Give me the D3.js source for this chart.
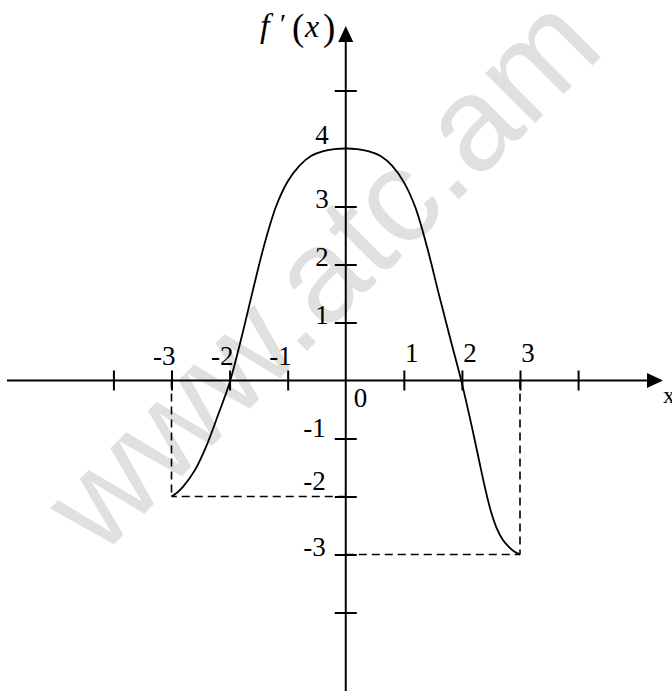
<!DOCTYPE html>
<html>
<head>
<meta charset="utf-8">
<script src="https://cdn.jsdelivr.net/npm/d3@7"></script>
<style>
  html, body { margin: 0; padding: 0; background: #fff; }
  svg { display: block; }
</style>
</head>
<body>
<svg id="chart" width="672" height="691"></svg>
<script>
// ---- data ----
const curveX = [-3, -2.9, -2.8, -2.6, -2.4, -2.2, -2.0, -1.8, -1.6, -1.4, -1.2, -1.0, -0.8, -0.6, -0.4, -0.2, 0,
                0.2, 0.4, 0.6, 0.8, 1.0, 1.2, 1.4, 1.6, 1.8, 2.0, 2.2, 2.3, 2.4, 2.5, 2.6, 2.7, 2.8, 2.9, 3];
const curveY = [-2, -1.93, -1.83, -1.55, -1.13, -0.6, -0.04, 0.72, 1.55, 2.35, 3.0, 3.43, 3.7, 3.87, 3.95, 3.99, 4,
                3.99, 3.95, 3.87, 3.7, 3.42, 2.98, 2.3, 1.5, 0.72, -0.05, -0.93, -1.4, -1.86, -2.26, -2.55, -2.74, -2.86, -2.95, -3];
const xTicks = [-4, -3, -2, -1, 1, 2, 3, 4];
const xTickLabels = [-3, -2, -1, 1, 2, 3];
const yTicks = [5, 3, 2, 1, -1, -2, -3, -4];
const yTickLabels = [4, 3, 2, 1, -1, -2, -3];
const endpoints = [[-3, -2], [3, -3]];
const watermark = "www.atc.am";

// ---- scales ----
const W = 672, H = 691;
const x = d3.scaleLinear().domain([-3, 3]).range([171.5, 520]);
const y = d3.scaleLinear().domain([-3, 4]).range([554.5, 148.5]);
const x0 = x(0), y0 = y(0);

const svg = d3.select("#chart");

// watermark (behind everything)
svg.append("text")
  .attr("transform", "translate(100,558) rotate(-45)")
  .attr("font-family", "Liberation Sans, Arial, sans-serif")
  .attr("font-size", 133)
  .attr("fill", "#e0e0e0")
  .text(watermark);

// dashed guide lines
const dash = svg.append("g")
  .attr("stroke", "#000").attr("stroke-width", 1.6)
  .attr("stroke-dasharray", "8,5").attr("fill", "none");
endpoints.forEach(([px, py]) => {
  dash.append("line").attr("x1", x(px)).attr("x2", x(px)).attr("y1", y0).attr("y2", y(py));
  dash.append("line").attr("x1", x0).attr("x2", x(px)).attr("y1", y(py)).attr("y2", y(py));
});

// axes lines
svg.append("line").attr("x1", 7).attr("x2", 650).attr("y1", y0).attr("y2", y0)
  .attr("stroke", "#000").attr("stroke-width", 2);
svg.append("path").attr("d", `M663,${y0}L647,${y0 - 7.5}L647,${y0 + 7.5}Z`).attr("fill", "#000");
svg.append("line").attr("x1", x0).attr("x2", x0).attr("y1", H).attr("y2", 40)
  .attr("stroke", "#000").attr("stroke-width", 2);
svg.append("path").attr("d", `M${x0},26L${x0 - 7.5},42L${x0 + 7.5},42Z`).attr("fill", "#000");

// ticks via d3 axes
const xAxis = d3.axisBottom(x).tickValues(xTicks).tickSize(20).tickFormat("");
const gx = svg.append("g").attr("transform", `translate(0,${y0 - 10})`).call(xAxis);
gx.select(".domain").remove();
gx.selectAll(".tick line").attr("stroke", "#000").attr("stroke-width", 2);

const yAxis = d3.axisRight(y).tickValues(yTicks).tickSize(22).tickFormat("");
const gy = svg.append("g").attr("transform", `translate(${x0 - 11},0)`).call(yAxis);
gy.select(".domain").remove();
gy.selectAll(".tick line").attr("stroke", "#000").attr("stroke-width", 2);

// curve
const line = d3.line().x((d, i) => x(curveX[i])).y((d, i) => y(curveY[i])).curve(d3.curveCatmullRom.alpha(0.5));
svg.append("path").datum(curveX).attr("d", line)
  .attr("fill", "none").attr("stroke", "#000").attr("stroke-width", 1.8);

// labels
const serif = "Liberation Serif, Times New Roman, serif";
const lab = svg.append("g").attr("font-family", serif).attr("font-size", 27).attr("fill", "#000");
xTickLabels.forEach(v => {
  lab.append("text")
    .attr("x", v < 0 ? x(v) + 4 : x(v) + 8)
    .attr("y", v < 0 ? y0 - 16 : y0 - 19)
    .attr("text-anchor", v < 0 ? "end" : "middle")
    .text(String(v));
});
lab.append("text").attr("x", x0 + 8).attr("y", y0 + 26).text("0");
yTickLabels.forEach(v => {
  let dy = 1;
  if (v === 4) dy = -5;
  if (v === -1) dy = -2;
  if (v === -2) dy = -7;
  lab.append("text")
    .attr("x", v < 0 ? x0 - 20 : x0 - 17)
    .attr("y", y(v) + dy)
    .attr("text-anchor", "end")
    .text(String(v));
});

// axis titles
const t = svg.append("g").attr("font-family", serif).attr("fill", "#000");
t.append("text").attr("x", 260).attr("y", 37).attr("font-size", 34).attr("font-style", "italic").text("f");
t.append("text").attr("x", 280).attr("y", 33).attr("font-size", 28).text("′");
t.append("text").attr("x", 292).attr("y", 40).attr("font-size", 37).text("(");
t.append("text").attr("x", 305).attr("y", 37).attr("font-size", 32).attr("font-style", "italic").text("x");
t.append("text").attr("x", 323).attr("y", 40).attr("font-size", 37).text(")");
t.append("text").attr("x", 663).attr("y", 403).attr("font-size", 24).text("x");
</script>
</body>
</html>
